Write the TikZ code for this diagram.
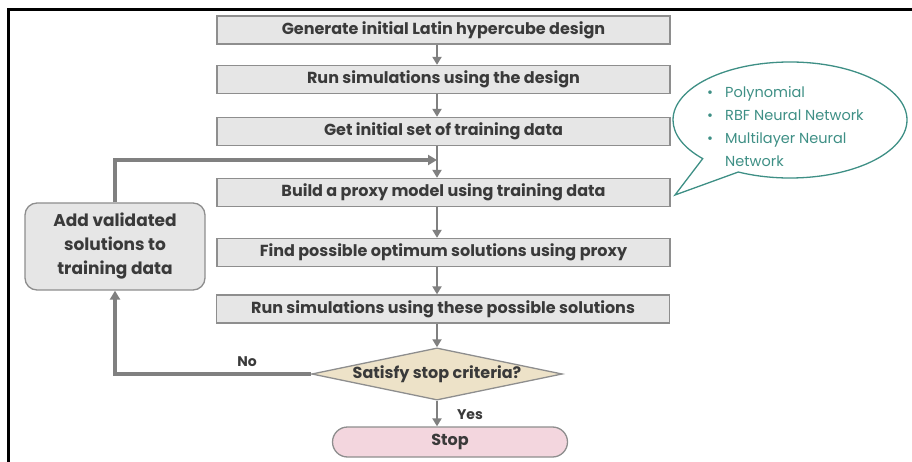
\documentclass[tikz,border=0pt]{standalone}
\usepackage{fontspec}
\setmainfont{Poppins}
\usetikzlibrary{arrows.meta,shapes.geometric,shapes.callouts}

\definecolor{boxfill}{HTML}{E6E6E6}
\definecolor{boxline}{HTML}{8E8E8E}
\definecolor{flowgray}{HTML}{808080}
\definecolor{txt}{HTML}{3A3A3A}
\definecolor{decisionfill}{HTML}{EDE2C8}
\definecolor{stopfill}{HTML}{F3D6DE}
\definecolor{teal}{HTML}{3E8F85}

\tikzset{
  stepbox/.style={draw=boxline, line width=1.3pt, fill=boxfill, text=txt,
    minimum width=453pt, minimum height=28pt, inner sep=0pt,
    font=\fontsize{16}{19}\selectfont\bfseries},
  flow/.style={draw=flowgray, line width=2.5pt,
    -{Triangle[length=8pt,width=9pt]}},
  loopline/.style={draw=flowgray, line width=4pt, line join=miter},
  looparrow/.style={loopline, -{Triangle[length=9pt,width=10pt]}},
  lbl/.style={text=txt, font=\fontsize{14}{16}\selectfont\bfseries, inner sep=0pt},
}

\begin{document}
\begin{tikzpicture}[x=1pt,y=-1pt]
\useasboundingbox (0,0) rectangle (912,462);

% outer frame (top and left edges)
\draw[line width=3pt] (8,462) -- (8,10) -- (912,10);

% main column of process steps
\node[stepbox] (b1) at (443.5,30)    {Generate initial Latin hypercube design};
\node[stepbox] (b2) at (443.5,79.5)  {Run simulations using the design};
\node[stepbox] (b3) at (443.5,131.5) {Get initial set of training data};
\node[stepbox] (b4) at (443.5,192.5) {Build a proxy model using training data};
\node[stepbox] (b5) at (443.5,252.5) {Find possible optimum solutions using proxy};
\node[stepbox] (b6) at (443,309)     {Run simulations using these possible solutions};

% decision and terminal
\node[diamond, aspect=4.8, draw=boxline, line width=1.3pt, fill=decisionfill, text=txt,
      minimum width=249pt, minimum height=52pt, inner sep=0pt,
      font=\fontsize{16}{18}\selectfont\bfseries] (dec) at (437,374) {Satisfy stop criteria?};
\node[draw=boxline, line width=1.3pt, fill=stopfill, rounded corners=15pt, text=txt,
      minimum width=235pt, minimum height=30pt, inner sep=0pt,
      font=\fontsize{16}{18}\selectfont\bfseries] (stop) at (450,442) {Stop};

% feedback step
\node[draw=boxline, line width=1.3pt, fill=boxfill, rounded corners=12pt, text=txt,
      minimum width=180pt, minimum height=87pt, inner sep=0pt, align=center,
      font=\fontsize{17}{24}\selectfont\bfseries] (add) at (115,246.5)
      {Add validated\\solutions to\\training data};

% column of the main flow
\coordinate (col) at (437,0);
\coordinate (merge) at (437,160);

\draw[flow] (b1.south -| col) -- (b2.north -| col);
\draw[flow] (b2.south -| col) -- (b3.north -| col);
\draw[flow] (b3.south -| col) -- (b4.north -| col);
\draw[flow] (b4.south -| col) -- (b5.north -| col);
\draw[flow] (b5.south -| col) -- (b6.north -| col);
\draw[flow] (b6.south -| col) -- (dec.north);
\draw[flow] (dec.south) -- (dec.south |- stop.north);

% feedback loop
\draw[looparrow] (dec.west) -- (dec.west -| add.south) -- (add.south);
\draw[looparrow] (add.north) -- (add.north |- merge) -- (merge);

\node[lbl] (no) at (247,362) {No};
\node[lbl] (yes) at (470,415) {Yes};

% speech bubble listing proxy model types
\coordinate (tip) at (675,195);
\node[ellipse callout, draw=teal, line width=1.3pt, minimum width=234pt, minimum height=116pt,
      callout absolute pointer={(tip)}, callout pointer arc=22] (bubble) at (790,120) {};
\node[anchor=north west, text=teal, inner sep=0pt, align=left,
      font=\fontsize{14.5}{23}\selectfont] (models) at (707,86)
      {\makebox[18pt][l]{\textbullet}Polynomial\\
       \makebox[18pt][l]{\textbullet}RBF Neural Network\\
       \makebox[18pt][l]{\textbullet}Multilayer Neural\\
       \makebox[18pt][l]{}Network};
\end{tikzpicture}
\end{document}
